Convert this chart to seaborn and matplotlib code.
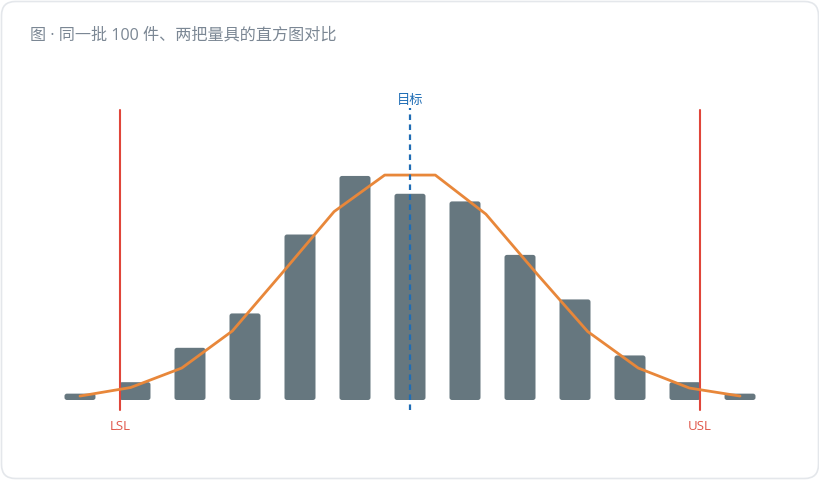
import numpy as np
import pandas as pd
import matplotlib
matplotlib.use('Agg')
import matplotlib.pyplot as plt
from matplotlib.patches import FancyBboxPatch
from matplotlib.transforms import IdentityTransform
import seaborn as sns

# datos
bin_centers = [9.94, 9.95, 9.96, 9.97, 9.98, 9.99, 10.00, 10.01, 10.02, 10.03, 10.04, 10.05, 10.06]
freq = [0.5, 1.4, 4.1, 6.8, 13.0, 17.6, 16.2, 15.6, 11.4, 7.9, 3.5, 1.4, 0.5]
curve_x = [9.9400, 9.9492, 9.9585, 9.9677, 9.9769, 9.9862, 9.9954,
           10.0046, 10.0138, 10.0231, 10.0323, 10.0415, 10.0508, 10.0600]
curve_y = [0.31, 0.98, 2.51, 5.42, 10.05, 14.8, 17.67, 17.67, 14.6, 9.9, 5.38, 2.51, 0.94, 0.31]
lsl = 9.94727
usl = 10.05273
target = 10.00
title = '图 · 同一批 100 件、两把量具的直方图对比'

sns.set_style('white')
plt.rcParams['font.family'] = ['Open Sans', 'Noto Sans CJK SC', 'DejaVu Sans']

fig = plt.figure(figsize=(8.2, 4.8), dpi=100)
# ejes en pixeles: x 40-780, y 60-440
ax = fig.add_axes([40 / 820, 40 / 480, 740 / 820, 380 / 480])

df = pd.DataFrame({'x': bin_centers, 'freq': freq})
sns.barplot(data=df, x='x', y='freq', native_scale=True, width=0.5636,
            color='#66777f', saturation=1, errorbar=None, ax=ax)

# esquinas redondeadas
for p in list(ax.patches):
    x0, y0 = p.get_x(), p.get_y()
    w, h = p.get_width(), p.get_height()
    p.remove()
    ax.add_patch(FancyBboxPatch((x0, y0), w, h,
                                boxstyle='round,pad=0,rounding_size=0.00045',
                                mutation_aspect=432, fc='#66777f', ec='none', zorder=2))

sns.lineplot(x=curve_x, y=curve_y, color='#e8873a', lw=2.0, ax=ax, zorder=4)

ax.axvline(lsl, ymin=0.079, ymax=0.868, color='#e0463a', lw=1.5, zorder=3)
ax.axvline(usl, ymin=0.079, ymax=0.868, color='#e0463a', lw=1.5, zorder=3)
ax.axvline(target, ymin=0.079, ymax=0.874, color='#1f6db5', lw=1.6,
           ls=(0, (2.5, 2)), zorder=5)

ax.set_xlim(9.93273, 10.06727)
ax.set_ylim(-40 / 12.73, 340 / 12.73)
ax.axis('off')

ax.text(lsl, 0.036, 'LSL', transform=ax.get_xaxis_transform(), ha='center', va='center',
        fontsize=9.5, color='#e0574a')
ax.text(usl, 0.036, 'USL', transform=ax.get_xaxis_transform(), ha='center', va='center',
        fontsize=9.5, color='#e0574a')
ax.text(target, 0.893, '目标', transform=ax.get_xaxis_transform(), ha='center', va='center',
        fontsize=9.5, color='#1f6db5')

fig.text(30 / 820, 1 - 35 / 480, title, ha='left', va='center', fontsize=11.6, color='#7b8794')

card = FancyBboxPatch((1.5, 1.5), 817, 477, boxstyle='round,pad=0,rounding_size=14',
                      transform=IdentityTransform(), fc='none', ec='#e4e7eb', lw=1.2)
fig.patches.append(card)

fig.savefig('out.png', dpi=100, facecolor='white')
